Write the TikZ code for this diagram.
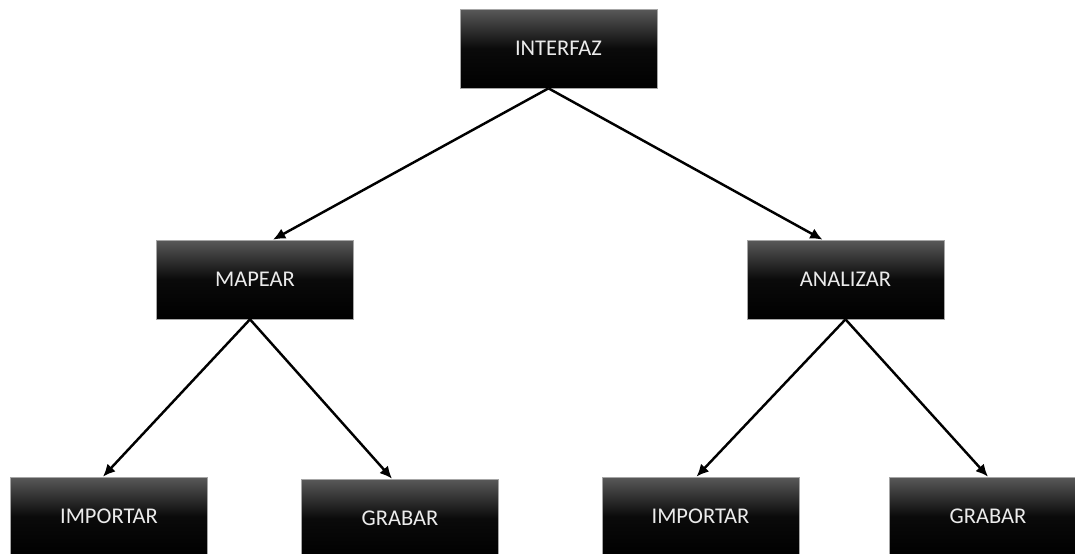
\documentclass[tikz,border=0pt]{standalone}
\usepackage{fontspec}
\setmainfont{Carlito}
\usetikzlibrary{arrows.meta}
\begin{document}
\begin{tikzpicture}[x=0.02cm,y=-0.02cm,>={Latex[length=7pt,width=6.5pt]},line width=1.4pt,
  caja/.style={draw=black!35,line width=0.4pt,minimum width=3.94cm,minimum height=1.58cm,
    top color=black!65,bottom color=black,middle color=black!96,
    text=black!8,font=\fontsize{12.8}{15}\selectfont,inner sep=0pt}]
\useasboundingbox (0,0) rectangle (1075,554);
\clip (0,0) rectangle (1075,554);
\node[caja] (interfaz) at (558.5,48.5) {INTERFAZ};
\node[caja] (mapear) at (255,279.5) {MAPEAR};
\node[caja] (analizar) at (845.5,279.5) {ANALIZAR};
\node[caja] (impA) at (109,516.5) {IMPORTAR};
\node[caja] (grabA) at (400,518.5) {GRABAR};
\node[caja] (impB) at (700.5,516.5) {IMPORTAR};
\node[caja] (grabB) at (988,516.5) {GRABAR};
\draw[->] ([xshift=-2mm]interfaz.south)--([xshift=3.6mm]mapear.north);
\draw[->] ([xshift=-2mm]interfaz.south)--([xshift=-4.6mm]analizar.north);
\draw[->] ([xshift=-1mm]mapear.south)--([xshift=-1.2mm]impA.north);
\draw[->] ([xshift=-1mm]mapear.south)--([xshift=-1.6mm]grabA.north);
\draw[->] (analizar.south)--([xshift=-0.8mm]impB.north);
\draw[->] (analizar.south)--(grabB.north);
\end{tikzpicture}
\end{document}
